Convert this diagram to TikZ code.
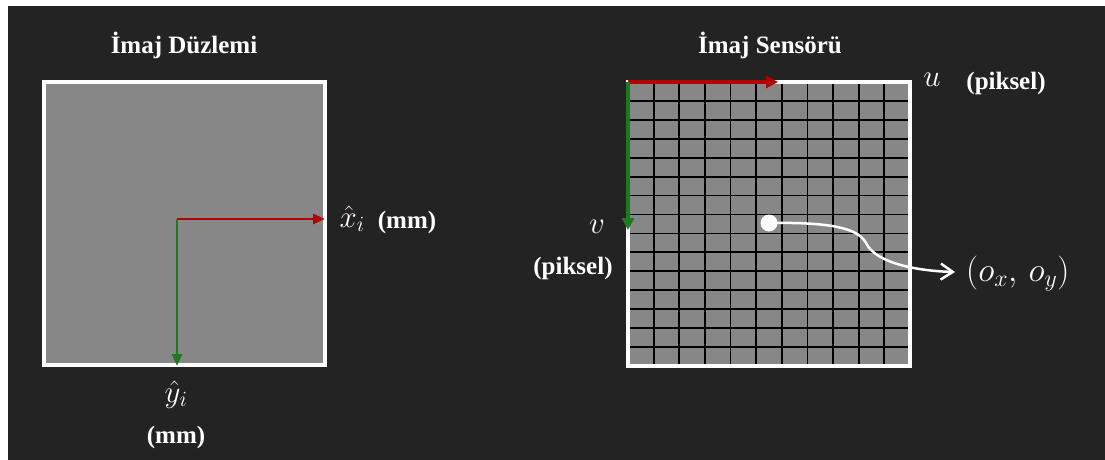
\RequirePackage{fix-cm}
\documentclass[tikz,border=0pt]{standalone}
\usepackage{fontspec}
\setmainfont{Liberation Serif}[BoldFont={Liberation Serif Bold}]
\usetikzlibrary{arrows.meta}
\definecolor{bg}{HTML}{232323}
\definecolor{planegray}{HTML}{878787}
\definecolor{axred}{HTML}{B40000}
\definecolor{axgreen}{HTML}{1E7A1E}
\begin{document}
\begin{tikzpicture}[x=1pt,y=-1pt,
  lbl/.style={text=white,font=\bfseries\fontsize{25}{28}\selectfont,inner sep=0pt,anchor=base},
  mth/.style={text=white,font=\fontsize{31}{36}\selectfont,inner sep=0pt,anchor=base},
  panel/.style={fill=planegray,inner sep=0pt,outer sep=0pt},
  border/.style={draw=white,line width=3.5pt},
  gridline/.style={black,line width=1.8pt},
  thinaxis/.style={line width=2.5pt,-{Triangle[length=12pt,width=10pt]}},
  thickaxis/.style={line width=4pt,-{Triangle[length=12pt,width=12pt]}},
  pointer/.style={white,line width=2.5pt,-{Straight Barb[length=12pt,width=16pt,line width=2.5pt]}}]
% background
\fill[white] (0,0) rectangle (1105,460);
\fill[bg] (8,6) rectangle (1105,460);
\useasboundingbox (0,0) rectangle (1105,460);
% titles
\node[lbl] (t1) at (184,54) {İmaj Düzlemi};
\node[lbl] (t2) at (770,54) {İmaj Sensörü};
% image plane
\node[panel,minimum width=281pt,minimum height=283pt] (plane) at (184.5,223.5) {};
\draw[border] (plane.north west) rectangle (plane.south east);
\coordinate (o1) at (177,219);
\coordinate (x1) at (325,219);
\coordinate (y1) at (177,366);
\draw[thinaxis,axred] (o1) -- (x1);
\draw[thinaxis,axgreen] (o1) -- (y1);
\node[mth] (xh) at (352,227) {$\hat{x}_i$};
\node[lbl] (xmm) at (407,228) {(mm)};
\node[mth] (yh) at (176,402) {$\hat{y}_i$};
\node[lbl] (ymm) at (176,443) {(mm)};
% image sensor
\node[panel,minimum width=282pt,minimum height=284pt] (sensor) at (769,224) {};
\foreach \i in {1,...,10}
  \draw[gridline] ({628+\i*25.636},82) -- ({628+\i*25.636},366);
\foreach \j in {1,...,14}
  \draw[gridline] (628,{82+\j*18.933}) -- (910,{82+\j*18.933});
\draw[border] (sensor.north west) rectangle (sensor.south east);
\coordinate (o2) at (sensor.north west);
\coordinate (u2) at (778,82);
\coordinate (v2) at (628,230);
\draw[thickaxis,axred] (o2) -- (u2);
\draw[thickaxis,axgreen] (o2) -- (v2);
\node[mth] (u) at (932,86) {$u$};
\node[lbl] (upx) at (1006,89) {(piksel)};
\node[mth] (v) at (597,233) {$v$};
\node[lbl] (vpx) at (573,274) {(piksel)};
% principal point
\node[circle,fill=white,minimum size=17pt,inner sep=0pt] (dot) at (769,223) {};
\coordinate (tip) at (955,272);
\draw[pointer] (dot.center) .. controls (830,222) and (858,228) .. (866,243)
  .. controls (876,264) and (920,271) .. (tip);
\node[mth,font=\fontsize{34}{40}\selectfont,anchor=west] (oxy) at (966,274) {$\bigl(o_x,\, o_y\bigr)$};
\end{tikzpicture}
\end{document}
